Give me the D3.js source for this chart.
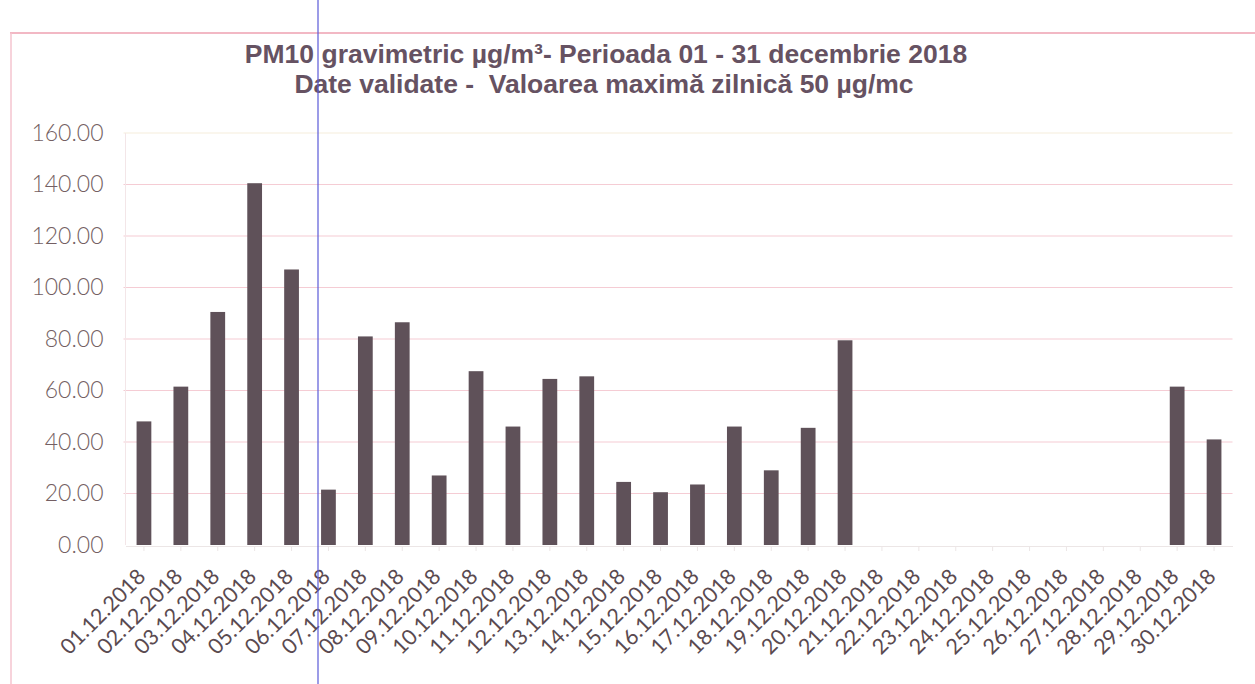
<!DOCTYPE html>
<html>
<head>
<meta charset="utf-8">
<script src="https://cdn.jsdelivr.net/npm/d3@7"></script>
<style>
  body { margin: 0; background: #fff; }
</style>
</head>
<body>
<script>
const svgWidth = 1255;
const svgHeight = 684;

const days = ["01.12.2018", "02.12.2018", "03.12.2018", "04.12.2018", "05.12.2018",
    "06.12.2018", "07.12.2018", "08.12.2018", "09.12.2018", "10.12.2018",
    "11.12.2018", "12.12.2018", "13.12.2018", "14.12.2018", "15.12.2018",
    "16.12.2018", "17.12.2018", "18.12.2018", "19.12.2018", "20.12.2018",
    "21.12.2018", "22.12.2018", "23.12.2018", "24.12.2018", "25.12.2018",
    "26.12.2018", "27.12.2018", "28.12.2018", "29.12.2018", "30.12.2018"];
const pm10 = [48, 61.5, 90.5, 140.5, 107, 21.5, 81, 86.5, 27, 67.5,
    46, 64.5, 65.5, 24.5, 20.5, 23.5, 46, 29, 45.5, 79.5,
    null, null, null, null, null, null, null, null, 61.5, 41];
const yTicks = [0, 20, 40, 60, 80, 100, 120, 140, 160];
const titleLines = ["PM10 gravimetric µg/m³- Perioada 01 - 31 decembrie 2018",
    "Date validate -  Valoarea maximă zilnică 50 µg/mc"];

const svg = d3.select("body")
    .append("svg")
    .attr("width", svgWidth)
    .attr("height", svgHeight);

// plot area
const plotLeft = 125.5, plotRight = 1232.5, plotTop = 133, plotBottom = 545;

const x = d3.scaleBand()
    .domain(days)
    .range([plotLeft, plotRight])
    .paddingInner(0.6)
    .paddingOuter(0.3);

const y = d3.scaleLinear()
    .domain([0, 160])
    .range([plotBottom, plotTop]);

// outer chart frame (pink) as in the scan
svg.append("line")
    .attr("x1", 10).attr("x2", svgWidth)
    .attr("y1", 33).attr("y2", 33)
    .style("stroke", "#f2b8c4").style("stroke-width", 2);
svg.append("line")
    .attr("x1", 11).attr("x2", 11)
    .attr("y1", 33).attr("y2", svgHeight)
    .style("stroke", "#f4c4cf").style("stroke-width", 1.5);

// gridlines
svg.append("g")
    .selectAll("line")
    .data(yTicks.slice(1))
    .enter()
    .append("line")
    .attr("x1", plotLeft - 2).attr("x2", plotRight)
    .attr("y1", d => y(d)).attr("y2", d => y(d))
    .style("stroke", d => d === 160 ? "#f6eedc" : "#f5ccd4")
    .style("stroke-width", 1.2);

// faint value axis line
svg.append("line")
    .attr("x1", plotLeft).attr("x2", plotLeft)
    .attr("y1", plotTop).attr("y2", plotBottom)
    .style("stroke", "#f3e6e8");

// y axis labels
const yAxis = svg.append("g")
    .attr("transform", `translate(${plotLeft - 22},0)`)
    .call(d3.axisLeft(y).tickValues(yTicks).tickFormat(d3.format(".2f")).tickSize(0));
yAxis.select(".domain").remove();
yAxis.selectAll("text")
    .attr("x", 0)
    .style("font-family", "Lato, 'Open Sans', sans-serif")
    .style("font-size", "23px")
    .style("font-weight", 300)
    .style("fill", "#745f63");

// bars
svg.append("g")
    .selectAll("rect")
    .data(days.map((d, i) => ({ day: d, v: pm10[i] })).filter(d => d.v !== null))
    .enter()
    .append("rect")
    .attr("x", d => x(d.day))
    .attr("width", x.bandwidth())
    .attr("y", d => y(d.v))
    .attr("height", d => y(0) - y(d.v))
    .style("fill", "#5f5159");

// category axis
const xAxis = svg.append("g")
    .attr("transform", `translate(0,${plotBottom + 1})`)
    .call(d3.axisBottom(x).tickSize(5).tickSizeOuter(0));
xAxis.select(".domain").style("stroke", "#ece6e6");
xAxis.selectAll(".tick line").style("stroke", "#ece6e6");
xAxis.selectAll("text")
    .attr("y", 0)
    .attr("dy", 0)
    .attr("transform", `translate(3,32) rotate(-45)`)
    .style("text-anchor", "end")
    .style("font-family", "Lato, 'Open Sans', sans-serif")
    .style("font-size", "21.5px")
    .style("fill", "#5a4a50");

// title
svg.append("g")
    .selectAll("text")
    .data(titleLines)
    .enter()
    .append("text")
    .attr("x", (d, i) => i === 0 ? 606 : 604)
    .attr("y", (d, i) => 63 + i * 30)
    .attr("text-anchor", "middle")
    .attr("xml:space", "preserve")
    .style("white-space", "pre")
    .style("font-family", "'Liberation Sans', Arial, sans-serif")
    .style("font-size", "26.5px")
    .style("font-weight", "bold")
    .style("fill", "#665262")
    .text(d => d);

// blue pen line across the scan
svg.append("line")
    .attr("x1", 318).attr("x2", 318)
    .attr("y1", 0).attr("y2", svgHeight)
    .style("stroke", "#5a5ad8").style("stroke-width", 1.2);
</script>
</body>
</html>
